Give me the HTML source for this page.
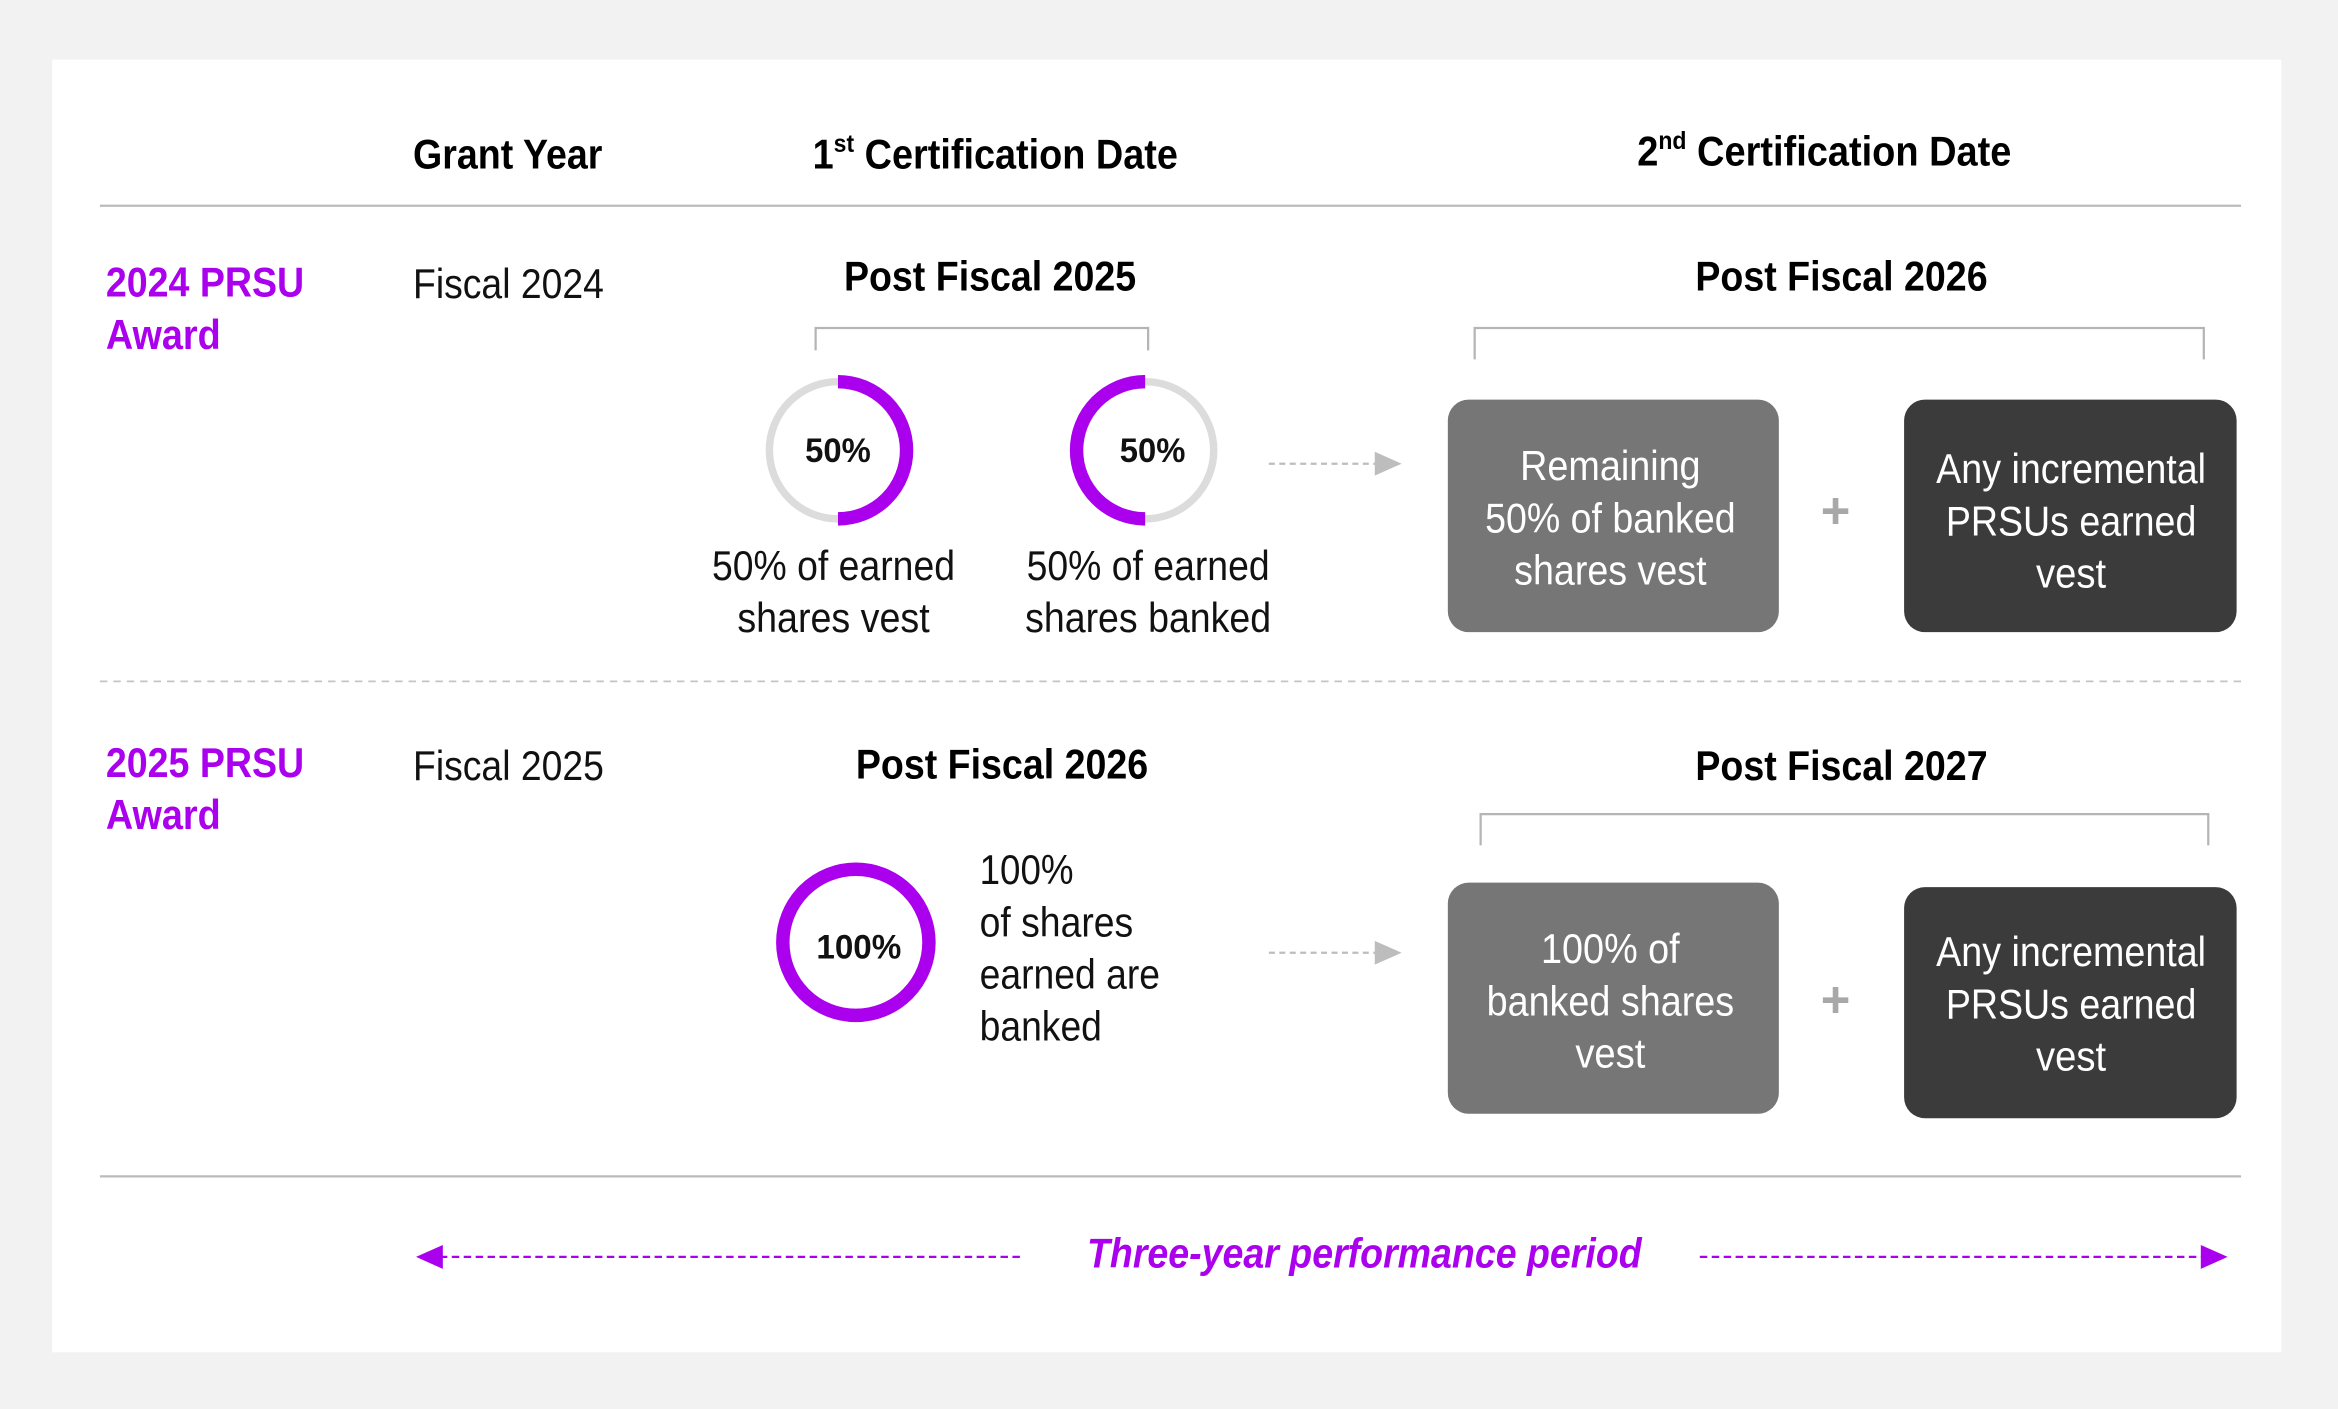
<!DOCTYPE html>
<html><head><meta charset="utf-8"><style>
html,body{margin:0;padding:0;background:#f2f2f2;}
svg{display:block;}
text{font-family:"Liberation Sans",sans-serif;}
</style></head><body>
<svg width="2338" height="1409" viewBox="0 0 1568 945" preserveAspectRatio="none" xmlns="http://www.w3.org/2000/svg">
<rect x="0" y="0" width="1568" height="945" fill="#f2f2f2"/>
<rect x="35" y="40" width="1495" height="867" fill="#fff"/>
<defs>
<marker id="ag" markerWidth="10" markerHeight="10" refX="9" refY="5" orient="auto" markerUnits="userSpaceOnUse"><path d="M0,0 L16,5 L0,10z" fill="#bdbdbd" transform="scale(0.6,1)"/></marker>
</defs>
<g font-size="28" fill="#000">
<text x="277" y="113" font-weight="bold" textLength="127" lengthAdjust="spacingAndGlyphs">Grant Year</text>
<text x="545" y="113" font-weight="bold" textLength="245" lengthAdjust="spacingAndGlyphs">1<tspan font-size="17" dy="-11">st</tspan><tspan dy="11"> Certification Date</tspan></text>
<text x="1098" y="111" font-weight="bold" textLength="251" lengthAdjust="spacingAndGlyphs">2<tspan font-size="17" dy="-11">nd</tspan><tspan dy="11"> Certification Date</tspan></text>
</g>
<line x1="67" y1="138" x2="1503" y2="138" stroke="#bbb" stroke-width="1.5"/>
<g font-size="28" font-weight="bold" fill="#aa00ee">
<text x="71" y="199" textLength="133" lengthAdjust="spacingAndGlyphs">2024 PRSU</text>
<text x="71" y="234" textLength="77" lengthAdjust="spacingAndGlyphs">Award</text>
<text x="71" y="521" textLength="133" lengthAdjust="spacingAndGlyphs">2025 PRSU</text>
<text x="71" y="556" textLength="77" lengthAdjust="spacingAndGlyphs">Award</text>
</g>
<g font-size="28" fill="#111">
<text x="277" y="200" textLength="128" lengthAdjust="spacingAndGlyphs">Fiscal 2024</text>
<text x="277" y="523" textLength="128" lengthAdjust="spacingAndGlyphs">Fiscal 2025</text>
</g>
<g font-size="28" font-weight="bold" fill="#000">
<text x="566" y="195" textLength="196" lengthAdjust="spacingAndGlyphs">Post Fiscal 2025</text>
<text x="1137" y="195" textLength="196" lengthAdjust="spacingAndGlyphs">Post Fiscal 2026</text>
<text x="574" y="522" textLength="196" lengthAdjust="spacingAndGlyphs">Post Fiscal 2026</text>
<text x="1137" y="523" textLength="196" lengthAdjust="spacingAndGlyphs">Post Fiscal 2027</text>
</g>
<g fill="none" stroke="#b5b5b5" stroke-width="1.5">
<path d="M547,235 V220 H770 V235"/>
<path d="M989,241 V220 H1478 V241"/>
<path d="M993,567 V546 H1481 V567"/>
</g>
<!-- circles -->
<circle cx="562" cy="302" r="46" fill="none" stroke="#dcdcdc" stroke-width="5"/>
<path d="M562,256 A46,46 0 0 1 562,348" fill="none" stroke="#aa00ee" stroke-width="9"/>
<circle cx="768" cy="302" r="46" fill="none" stroke="#dcdcdc" stroke-width="5"/>
<path d="M768,256 A46,46 0 0 0 768,348" fill="none" stroke="#aa00ee" stroke-width="9"/>
<circle cx="574" cy="632" r="49" fill="none" stroke="#aa00ee" stroke-width="9"/>
<g font-size="23" font-weight="bold" fill="#111" text-anchor="middle">
<text x="562" y="310" textLength="44" lengthAdjust="spacingAndGlyphs">50%</text>
<text x="773" y="310" textLength="44" lengthAdjust="spacingAndGlyphs">50%</text>
<text x="576" y="643" textLength="57" lengthAdjust="spacingAndGlyphs">100%</text>
</g>
<g font-size="28" fill="#111" text-anchor="middle">
<text x="559" y="389" textLength="163" lengthAdjust="spacingAndGlyphs">50% of earned</text>
<text x="559" y="424" textLength="129" lengthAdjust="spacingAndGlyphs">shares vest</text>
<text x="770" y="389" textLength="163" lengthAdjust="spacingAndGlyphs">50% of earned</text>
<text x="770" y="424" textLength="165" lengthAdjust="spacingAndGlyphs">shares banked</text>
</g>
<g font-size="28" fill="#111">
<text x="657" y="593" textLength="63" lengthAdjust="spacingAndGlyphs">100%</text>
<text x="657" y="628" textLength="103" lengthAdjust="spacingAndGlyphs">of shares</text>
<text x="657" y="663" textLength="121" lengthAdjust="spacingAndGlyphs">earned are</text>
<text x="657" y="698" textLength="82" lengthAdjust="spacingAndGlyphs">banked</text>
</g>
<!-- gray arrows -->
<line x1="851" y1="311" x2="925" y2="311" stroke="#bdbdbd" stroke-width="1.5" stroke-dasharray="4,3"/>
<path d="M922,303 L940,311 L922,319z" fill="#bdbdbd"/>
<line x1="851" y1="639" x2="925" y2="639" stroke="#bdbdbd" stroke-width="1.5" stroke-dasharray="4,3"/>
<path d="M922,631 L940,639 L922,647z" fill="#bdbdbd"/>
<!-- boxes -->
<rect x="971" y="268" width="222" height="156" rx="14" fill="#767676"/>
<rect x="1277" y="268" width="223" height="156" rx="14" fill="#3b3b3b"/>
<rect x="971" y="592" width="222" height="155" rx="14" fill="#767676"/>
<rect x="1277" y="595" width="223" height="155" rx="14" fill="#3b3b3b"/>
<g font-size="28" fill="#fff" text-anchor="middle">
<text x="1080" y="322" textLength="121" lengthAdjust="spacingAndGlyphs">Remaining</text>
<text x="1080" y="357" textLength="168" lengthAdjust="spacingAndGlyphs">50% of banked</text>
<text x="1080" y="392" textLength="129" lengthAdjust="spacingAndGlyphs">shares vest</text>
<text x="1389" y="324" textLength="181" lengthAdjust="spacingAndGlyphs">Any incremental</text>
<text x="1389" y="359" textLength="168" lengthAdjust="spacingAndGlyphs">PRSUs earned</text>
<text x="1389" y="394" textLength="47" lengthAdjust="spacingAndGlyphs">vest</text>
<text x="1080" y="646" textLength="93" lengthAdjust="spacingAndGlyphs">100% of</text>
<text x="1080" y="681" textLength="166" lengthAdjust="spacingAndGlyphs">banked shares</text>
<text x="1080" y="716" textLength="47" lengthAdjust="spacingAndGlyphs">vest</text>
<text x="1389" y="648" textLength="181" lengthAdjust="spacingAndGlyphs">Any incremental</text>
<text x="1389" y="683" textLength="168" lengthAdjust="spacingAndGlyphs">PRSUs earned</text>
<text x="1389" y="718" textLength="47" lengthAdjust="spacingAndGlyphs">vest</text>
</g>
<g font-size="34" font-weight="bold" fill="#a8a8a8" text-anchor="middle">
<text x="1231" y="354">+</text>
<text x="1231" y="682">+</text>
</g>
<line x1="67" y1="457" x2="1503" y2="457" stroke="#c4c4c4" stroke-width="1.2" stroke-dasharray="5,4"/>
<line x1="67" y1="789" x2="1503" y2="789" stroke="#bbb" stroke-width="1.5"/>
<!-- bottom -->
<line x1="295" y1="843" x2="687" y2="843" stroke="#aa00ee" stroke-width="1.5" stroke-dasharray="5,3"/>
<path d="M279,843 L297,835 L297,851z" fill="#aa00ee"/>
<line x1="1140" y1="843" x2="1478" y2="843" stroke="#aa00ee" stroke-width="1.5" stroke-dasharray="5,3"/>
<path d="M1494,843 L1476,835 L1476,851z" fill="#aa00ee"/>
<text x="729" y="850" font-size="28" font-weight="bold" font-style="italic" fill="#aa00ee" textLength="372" lengthAdjust="spacingAndGlyphs">Three-year performance period</text>
</svg>
</body></html>
